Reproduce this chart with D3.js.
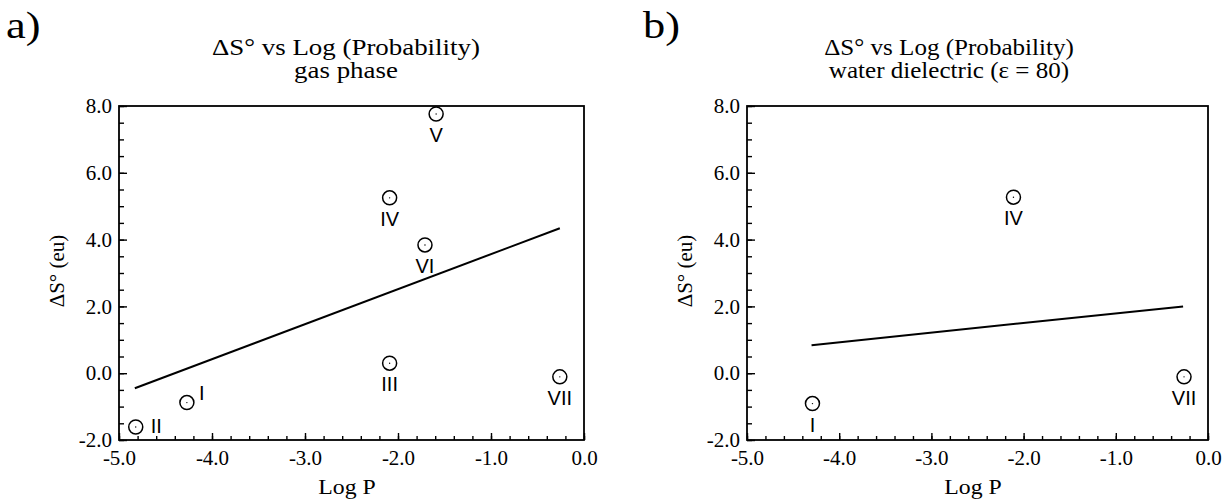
<!DOCTYPE html>
<html>
<head>
<meta charset="utf-8">
<title>dS vs Log P</title>
<script src="https://d3js.org/d3.v7.min.js"></script>
</head>
<body style="margin:0; background:#fff">
<script>
// axis ticks
var xTicks = [-5, -4, -3, -2, -1, 0];
var yTicks = [-2, 0, 2, 4, 6, 8];

// a) gas phase
var gasLabels = ["I", "II", "III", "IV", "V", "VI", "VII"];
var gasX = [-4.27, -4.82, -2.09, -2.09, -1.59, -1.71, -0.26];
var gasY = [-0.88, -1.61, 0.30, 5.25, 7.76, 3.84, -0.11];
var gasFitX = [-4.83, -0.26];
var gasFitY = [-0.45, 4.34];

// b) water dielectric
var waterLabels = ["I", "IV", "VII"];
var waterX = [-4.29, -2.11, -0.26];
var waterY = [-0.91, 5.27, -0.11];
var waterFitX = [-4.30, -0.27];
var waterFitY = [0.84, 2.00];

var W = 1226, H = 499;
var SERIF = "Liberation Serif";
var SANS = "Liberation Sans";

var svg = d3.select("body").append("svg")
  .attr("width", W)
  .attr("height", H);

function drawPanel(p) {
  var x = d3.scaleLinear().domain([-5, 0]).range([p.left, p.right]);
  var y = d3.scaleLinear().domain([-2, 8]).range([p.bottom, p.top]);
  var g = svg.append("g");

  // minor ticks
  g.append("g")
    .attr("transform", "translate(0," + p.bottom + ")")
    .call(d3.axisBottom(x).tickValues(d3.range(-5, 0.001, 0.2)).tickSize(-4).tickFormat(""))
    .call(function(s) { s.select(".domain").remove(); });
  g.append("g")
    .attr("transform", "translate(" + p.left + ",0)")
    .call(d3.axisLeft(y).tickValues(d3.range(-2, 8.001, 0.5)).tickSize(-5).tickFormat(""))
    .call(function(s) { s.select(".domain").remove(); });

  // major ticks + labels
  var xa = g.append("g")
    .attr("transform", "translate(0," + p.bottom + ")")
    .call(d3.axisBottom(x).tickValues(xTicks).tickSize(-7).tickPadding(10)
      .tickFormat(function(d) { return d.toFixed(1); }));
  var ya = g.append("g")
    .attr("transform", "translate(" + p.left + ",0)")
    .call(d3.axisLeft(y).tickValues(yTicks).tickSize(-8).tickPadding(7)
      .tickFormat(function(d) { return d.toFixed(1); }));
  [xa, ya].forEach(function(a) {
    a.select(".domain").remove();
    a.attr("font-family", SERIF).attr("font-size", p.tickFont);
    a.selectAll("text").attr("fill", "#000");
  });
  g.selectAll(".tick line").attr("stroke", "#000").attr("stroke-width", 1.4);

  // frame
  g.append("rect")
    .attr("x", p.left).attr("y", p.top)
    .attr("width", p.right - p.left).attr("height", p.bottom - p.top)
    .attr("fill", "none").attr("stroke", "#000").attr("stroke-width", 1.8);

  // regression line
  g.append("path")
    .datum(d3.zip(p.fitX, p.fitY))
    .attr("fill", "none").attr("stroke", "#000").attr("stroke-width", 2)
    .attr("d", d3.line().x(function(d) { return x(d[0]); }).y(function(d) { return y(d[1]); }));

  // points
  var pts = p.labels.map(function(l, i) { return { l: l, x: p.xs[i], y: p.ys[i] }; });
  var pg = g.selectAll(".pt").data(pts).enter().append("g").attr("class", "pt")
    .attr("transform", function(d) { return "translate(" + x(d.x) + "," + y(d.y) + ")"; });
  pg.append("circle").attr("r", 7).attr("fill", "none").attr("stroke", "#000").attr("stroke-width", 1.5);
  pg.append("circle").attr("r", 0.7).attr("fill", "#000");
  pg.append("text")
    .attr("font-family", SANS).attr("font-size", 20).attr("fill", "#000")
    .attr("text-anchor", function(d) { return p.place[d.l] ? "start" : "middle"; })
    .attr("x", function(d) { return p.place[d.l] ? p.place[d.l][0] : 0; })
    .attr("y", function(d) { return p.place[d.l] ? p.place[d.l][1] : 28; })
    .text(function(d) { return d.l; });

  // titles
  var t = svg.append("text")
    .attr("font-family", SERIF).attr("font-size", 23).attr("fill", "#000")
    .attr("text-anchor", "middle")
    .attr("transform", "translate(" + p.titleX + ",0) scale(" + p.titleScale + ",1)");
  t.append("tspan").attr("x", 0).attr("y", 55).text("\u0394S\u00b0 vs Log (Probability)");
  t.append("tspan").attr("x", 0).attr("y", 78).text(p.sub);

  svg.append("text")
    .attr("font-family", SERIF).attr("font-size", 37).attr("fill", "#000")
    .attr("transform", "translate(" + p.tagX + ",38) scale(1.2,1)")
    .text(p.tag);

  svg.append("text")
    .attr("font-family", SERIF).attr("font-size", 22).attr("fill", "#000")
    .attr("text-anchor", "middle")
    .attr("transform", "translate(" + p.xLabX + ",494) scale(1.08,1)")
    .text("Log P");

  svg.append("text")
    .attr("font-family", SERIF).attr("font-size", 21).attr("fill", "#000")
    .attr("text-anchor", "middle")
    .attr("transform", "translate(" + p.yLabX + ",271) rotate(-90)")
    .text("\u0394S\u00b0 (eu)");
}

drawPanel({
  left: 119, right: 584, top: 106, bottom: 440, tickFont: 21,
  labels: gasLabels, xs: gasX, ys: gasY, fitX: gasFitX, fitY: gasFitY,
  place: { "I": [12, -3], "II": [15, 6] },
  titleX: 346, titleScale: 1.17, sub: "gas phase",
  tag: "a)", tagX: 6, yLabX: 64, xLabX: 347
});

drawPanel({
  left: 747, right: 1208, top: 106, bottom: 440, tickFont: 21,
  labels: waterLabels, xs: waterX, ys: waterY, fitX: waterFitX, fitY: waterFitY,
  place: {},
  titleX: 949, titleScale: 1.09, sub: "water dielectric (\u03b5 = 80)",
  tag: "b)", tagX: 643, yLabX: 692, xLabX: 973
});
</script>
</body>
</html>
